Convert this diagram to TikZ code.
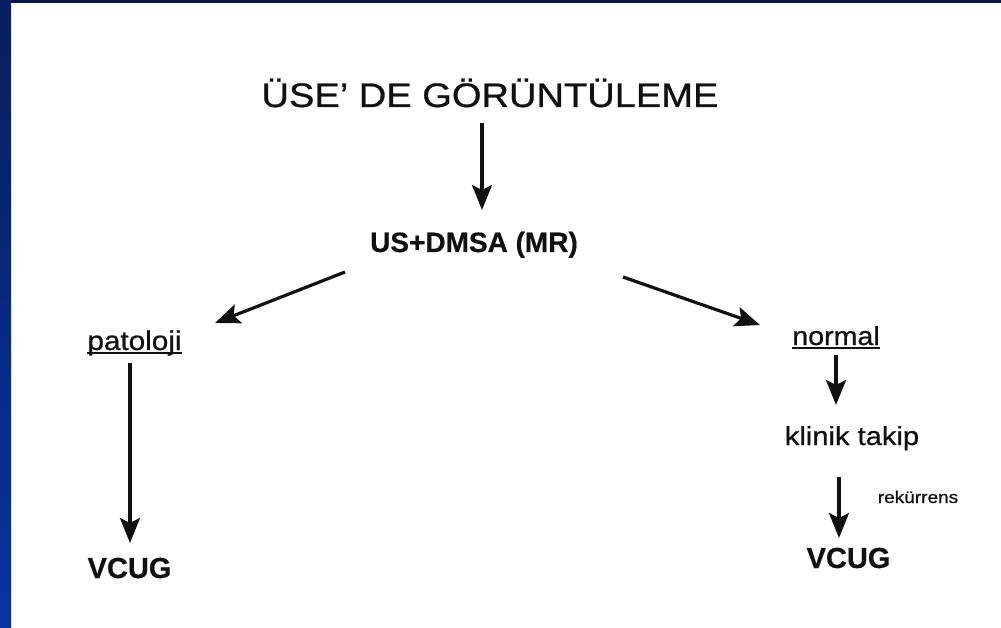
\documentclass[tikz,border=0pt]{standalone}
\usepackage{fontspec}
\setmainfont{Liberation Sans}
\newfontfamily\heavyreg[FakeBold=0.7]{Liberation Sans}
\newfontfamily\heavybld[FakeBold=0.5]{Liberation Sans Bold}
\usetikzlibrary{arrows.meta,calc}
\definecolor{navytop}{HTML}{06184A}
\definecolor{navyleft}{HTML}{081E5E}
\definecolor{bluebottom}{HTML}{0634A0}
\definecolor{ink}{HTML}{111111}
\newcommand{\wideX}[2]{\scalebox{#1}[1]{#2}}
\tikzset{
  lbl/.style={inner sep=0pt, anchor=base, text=ink},
  reg/.style={lbl, font=\fontsize{#1}{#1}\heavyreg},
  bld/.style={lbl, font=\fontsize{#1}{#1}\heavybld},
  arr/.style={draw=ink, line width=3.2pt,
    -{Stealth[length=25pt,width=20pt,inset=5pt]}},
  uline/.style={draw=ink, line width=2pt}
}
\begin{document}
\begin{tikzpicture}[x=1pt,y=-1pt]
  % slide frame
  \fill[white] (0,0) rectangle (1001,628);
  \useasboundingbox (0,0) rectangle (1001,628);
  \fill[navytop] (0,0) rectangle (1001,3);
  \shade[top color=navyleft, bottom color=bluebottom] (0,0) rectangle (11,628);

  % texts
  \node[reg=34] (title) at (490,107) {\wideX{1.12}{ÜSE’ DE GÖRÜNTÜLEME}};
  \node[bld=28] (us) at (474,252) {US+DMSA (MR)};
  \node[reg=27] (pat) at (134.5,350) {\wideX{1.1}{patoloji}};
  \node[reg=26] (norm) at (836,345) {\wideX{1.1}{normal}};
  \node[reg=26] (klin) at (852,445) {\wideX{1.12}{klinik takip}};
  \node[reg=17] (rek) at (918,503) {\wideX{1.12}{rekürrens}};
  \node[bld=29] (vcugL) at (129.5,578) {VCUG};
  \node[bld=29] (vcugR) at (848.5,568) {VCUG};

  % underlines
  \draw[uline] ($(pat.base west)+(0,3)$) -- ($(pat.base east)+(0,3)$);
  \draw[uline] ($(norm.base west)+(0,3)$) -- ($(norm.base east)+(0,3)$);

  % arrows
  \draw[arr] ($(title.base)+(-8,16)$) -- ($(us.base)+(8,-42)$);
  \draw[arr] ($(us.base)+(-129,20)$) -- ($(pat.base)+(80.5,-27)$);
  \draw[arr] ($(us.base)+(149,25)$) -- ($(norm.base)+(-76,-20)$);
  \draw[arr] ($(pat.base)+(-4.5,13)$) -- ($(vcugL.base)+(0.5,-35)$);
  \draw[arr] ($(norm.base)+(0,10)$) -- ($(klin.base)+(-16,-40)$);
  \draw[arr] ($(klin.base)+(-13,32)$) -- ($(vcugR.base)+(-9.5,-30)$);
\end{tikzpicture}
\end{document}
